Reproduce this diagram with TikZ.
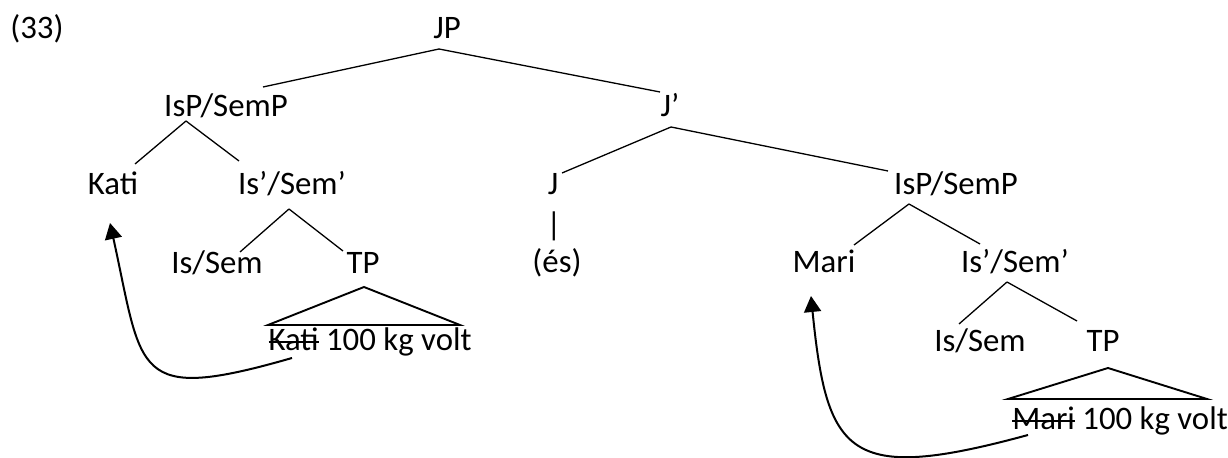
\documentclass[tikz,border=0pt]{standalone}
\usepackage{fontspec}
\setmainfont{Carlito}
\usetikzlibrary{calc,arrows.meta}

% struck-out word: a rule drawn over the boxed text
\newcommand\strikeword[1]{\leavevmode\setbox0\hbox{#1}\rlap{\rule[0.25em]{\wd0}{1pt}}\box0\relax}

\tikzset{
  lbl/.style={anchor=base, inner sep=0pt, font=\fontsize{16.4}{19}\selectfont},
  branch/.style={line width=0.65pt},
  roof/.style={line width=0.95pt, line join=miter},
  move/.style={line width=1pt, -{Triangle[width=8.5pt,length=8pt]}}
}

\begin{document}
\begin{tikzpicture}[x=0.5pt,y=-0.5pt]
\useasboundingbox (0,0) rectangle (1228,458);

% labels of the tree
\node[lbl] (ex)     at (37,39)   {(33)};
\node[lbl] (jp)     at (447,39)  {JP};
\node[lbl] (ispL)   at (226,117) {IsP/SemP};
\node[lbl] (jbar)   at (670,117) {J’};
\node[lbl] (kati)   at (113,195) {Kati};
\node[lbl] (isbL)   at (292,195) {Is’/Sem’};
\node[lbl] (j)      at (553,195) {J};
\node[lbl] (ispR)   at (956,195) {IsP/SemP};
\node[lbl] (bar)    at (554,236) {|};
\node[lbl] (issL)   at (217,274) {Is/Sem};
\node[lbl] (tpL)    at (363,274) {TP};
\node[lbl] (es)     at (557,273) {(és)};
\node[lbl] (mari)   at (824,273) {Mari};
\node[lbl] (isbR)   at (1015,273) {Is’/Sem’};
\node[lbl] (issR)   at (980,352) {Is/Sem};
\node[lbl] (tpR)    at (1103,352) {TP};
\node[lbl] (yldL)   at (370,351) {\strikeword{Kati} 100 kg volt};
\node[lbl] (yldR)   at (1120,430) {\strikeword{Mari} 100 kg volt};

% branches
\draw[branch] ($(jp.base)+(-8,10)$) -- ($(ispL.base)+(37,-30)$);
\draw[branch] ($(jp.base)+(-8,10)$) -- ($(jbar.base)+(-10,-25)$);
\draw[branch] ($(ispL.base)+(-40,4)$) -- ($(kati.base)+(22,-31)$);
\draw[branch] ($(ispL.base)+(-40,4)$) -- ($(isbL.base)+(-53,-34)$);
\draw[branch] ($(jbar.base)+(1,10)$) -- ($(j.base)+(9,-22)$);
\draw[branch] ($(jbar.base)+(1,10)$) -- ($(ispR.base)+(-68,-24)$);
\draw[branch] ($(isbL.base)+(-3,14)$) -- ($(issL.base)+(23,-22)$);
\draw[branch] ($(isbL.base)+(-3,14)$) -- ($(tpL.base)+(-20,-23)$);
\draw[branch] ($(ispR.base)+(-47,9)$) -- ($(mari.base)+(30,-28)$);
\draw[branch] ($(ispR.base)+(-47,9)$) -- ($(isbR.base)+(-35,-29)$);
\draw[branch] ($(isbR.base)+(-8,9)$) -- ($(issR.base)+(-21,-28)$);
\draw[branch] ($(isbR.base)+(-8,9)$) -- ($(tpR.base)+(-26,-31)$);

% triangles over the TP contents
\draw[roof] ($(tpL.base)+(1,13)$) -- ($(yldL.base)+(-102,-26)$) -- ($(yldL.base)+(90,-26)$) -- cycle;
\draw[roof] ($(tpR.base)+(5,16)$) -- ($(yldR.base)+(-112,-31)$) -- ($(yldR.base)+(87,-31)$) -- cycle;

% movement arrows
\draw[move] ($(yldL.base)+(-78,7)$) .. controls (132,404) and (143,373) .. ($(kati.base)+(-3,28)$);
\draw[move] ($(yldR.base)+(-92,5)$) .. controls (848,484) and (827,456) .. ($(mari.base)+(-13,23)$);
\end{tikzpicture}
\end{document}
